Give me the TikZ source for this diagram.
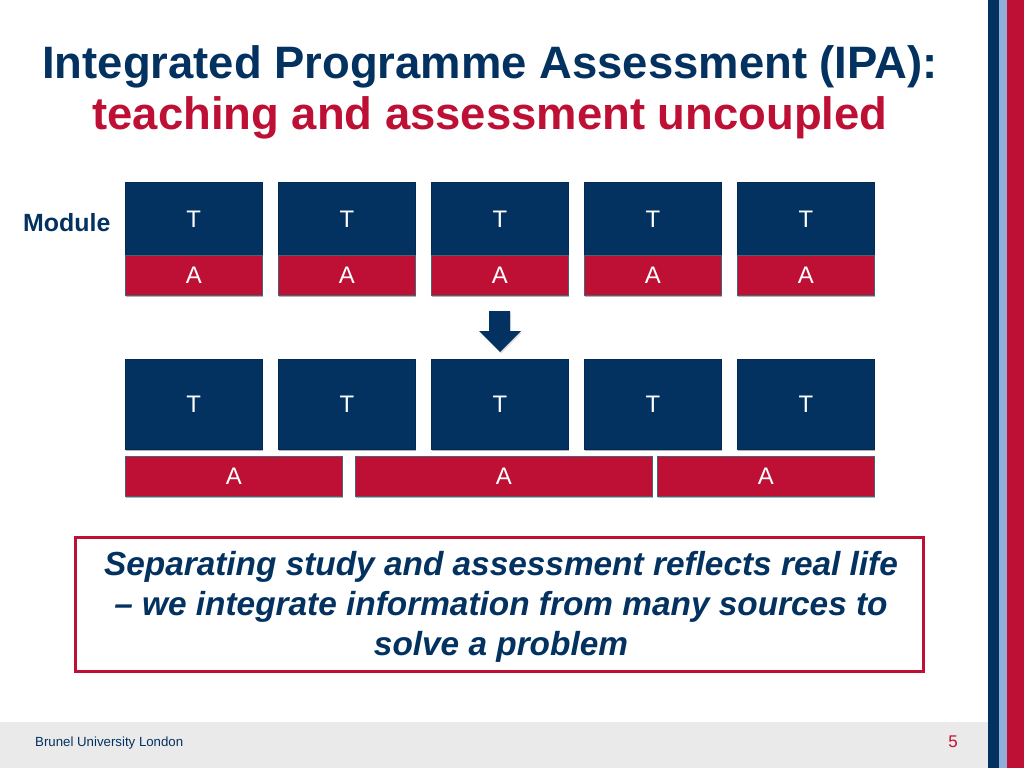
\documentclass[tikz,border=0pt]{standalone}
\usepackage{fontspec}
\setmainfont{Liberation Sans}
\usetikzlibrary{shadows}
\definecolor{navy}{RGB}{3,50,96}
\definecolor{brred}{RGB}{190,16,52}
\definecolor{lblue}{RGB}{143,174,216}
\definecolor{footgray}{RGB}{234,234,234}
\begin{document}
\begin{tikzpicture}[x=1bp,y=-1bp,
  boxshadow/.style={drop shadow={shadow xshift=1bp,shadow yshift=-2bp,opacity=0.3,fill=black}},
  tpart/.style={fill=navy, draw=navy!85!black, line width=0.6bp, inner sep=0pt, anchor=north west,
    minimum width=137bp, text=white, font=\fontsize{24}{24}\selectfont, boxshadow},
  apart/.style={fill=brred, draw=navy!40!gray, line width=0.6bp, inner sep=0pt, anchor=north west,
    minimum height=40bp, text=white, font=\fontsize{24}{24}\selectfont, boxshadow},
  stripe/.style={inner sep=0pt, outer sep=0pt, anchor=north west, minimum height=768bp},
  titlefont/.style={font=\fontsize{45.6}{50}\bfseries\selectfont, anchor=base, inner sep=0pt}
]
\useasboundingbox (0,0) rectangle (1024,768);
\fill[white] (0,0) rectangle (1024,768);
% footer band
\node[fill=footgray, inner sep=0pt, anchor=north west, minimum width=988bp, minimum height=46bp] (foot) at (0,722) {};
\node[anchor=base west, inner sep=0pt, text=navy, font=\fontsize{13.3}{14}\selectfont] (brunel) at (35,746) {Brunel University London};
\node[anchor=base, inner sep=0pt, text=brred, font=\fontsize{17}{18}\selectfont] (pnum) at (953,747) {5};
% stripes
\node[stripe, fill=navy, minimum width=11bp] (s1) at (988,0) {};
\node[stripe, fill=lblue, minimum width=8bp] (s2) at (999,0) {};
\node[stripe, fill=brred, minimum width=17bp] (s3) at (1007,0) {};
% title
\node[titlefont, text=navy] (title1) at (490,79) {Integrated Programme Assessment (IPA):};
\node[titlefont, text=brred] (title2) at (490,129) {teaching and assessment uncoupled};
% module label
\node[anchor=base west, inner sep=0pt, text=navy, font=\fontsize{25}{26}\bfseries\selectfont] (module) at (23,231) {Module};
% top row
\foreach \i/\x in {1/125,2/278,3/431,4/584,5/737}{
  \node[tpart, minimum height=73bp] (tt\i) at (\x,182) {T};
  \node[apart, minimum width=137bp] (ta\i) at (\x,255) {A};
}
% arrow
\fill[navy, drop shadow={shadow xshift=1bp,shadow yshift=-1.5bp,opacity=0.25}]
  (489,311) -- (510,311) -- (510,331) -- (521,331) -- (500,352) -- (479,331) -- (489,331) -- cycle;
% bottom row
\foreach \i/\x in {1/125,2/278,3/431,4/584,5/737}{
  \node[tpart, minimum height=90bp] (bt\i) at (\x,359) {T};
}
\node[apart, minimum width=217bp] (ba1) at (125,456) {A};
\node[apart, minimum width=297bp] (ba2) at (355,456) {A};
\node[apart, minimum width=217bp] (ba3) at (657,456) {A};
% message box
\node[draw=brred, line width=3bp, fill=white, minimum width=847bp, minimum height=134bp, inner sep=0pt,
  drop shadow={shadow xshift=1bp,shadow yshift=-1.5bp,opacity=0.2}] (msgbox) at (499.5,604) {};
\node[align=center, text=navy, inner sep=0pt, anchor=base, font=\fontsize{33.5}{40}\bfseries\itshape\selectfont] (msg) at (501,655)
  {Separating study and assessment reflects real life\\ -- we integrate information from many sources to\\ solve a problem};
\end{tikzpicture}
\end{document}
